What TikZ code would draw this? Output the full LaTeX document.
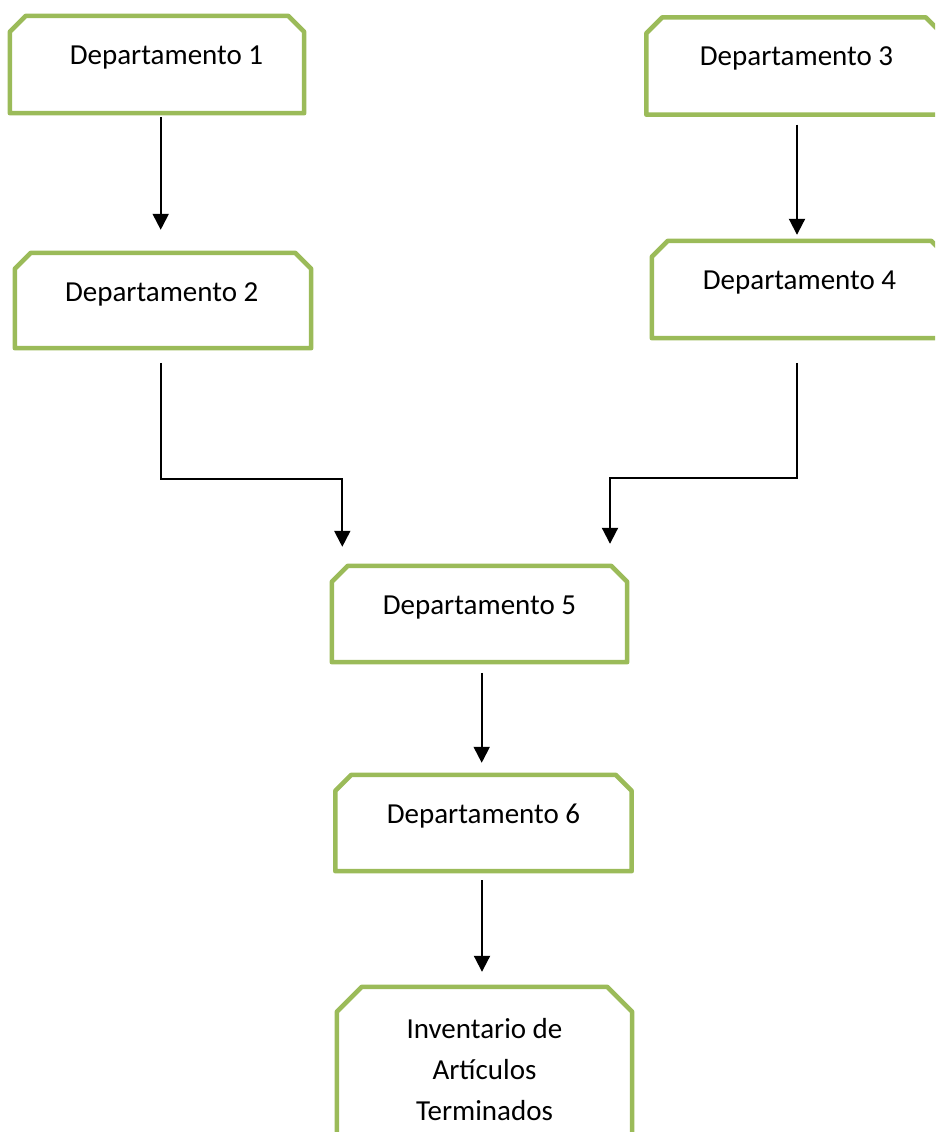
\documentclass[tikz,border=0pt]{standalone}
\usepackage{fontspec}
\setmainfont{Carlito}
\usetikzlibrary{arrows.meta}
\definecolor{boxgreen}{HTML}{9BBB59}

% outline of a box whose two top corners are snipped off
\newcommand\snipoutline[2]{%
  \draw[boxline] (#1.south west) -- ([yshift=-#2]#1.north west)
    -- ([xshift=#2]#1.north west) -- ([xshift=-#2]#1.north east)
    -- ([yshift=-#2]#1.north east) -- (#1.south east) -- cycle;}

\begin{document}
\begin{tikzpicture}[x=1pt,y=-1pt,
  deptbox/.style={rectangle,draw=none,inner sep=0pt,minimum width=295pt,minimum height=96pt},
  boxline/.style={draw=boxgreen,line width=4.5pt,line join=round},
  lbl/.style={inner sep=0pt,anchor=base,align=center,
              font=\fontsize{29}{41}\selectfont},
  arr/.style={draw=black,line width=2pt,-{Triangle[width=16pt,length=16pt]}}]
\useasboundingbox (0,0) rectangle (935,1132);
\clip (0,0) rectangle (935,1132);

% boxes
\node[deptbox,minimum width=294pt,minimum height=97pt] (d1) at (157,64.5) {};
\node[deptbox,minimum width=296pt,minimum height=95pt] (d2) at (163,300.5) {};
\node[deptbox,minimum height=97pt] (d3) at (794,66) {};
\node[deptbox,minimum height=97pt] (d4) at (799.5,289.5) {};
\node[deptbox] (d5) at (479.5,614) {};
\node[deptbox,minimum width=296pt] (d6) at (483.5,823) {};
\node[deptbox,minimum height=150pt] (d7) at (484.5,1062) {};

\foreach \n in {d1,d2,d3,d4,d5,d6} {\snipoutline{\n}{16pt}}
\snipoutline{d7}{25pt}

% labels (a multi-line label sits on the baseline of its last line)
\node[lbl] (t1) at ([xshift=9.5pt,yshift=-49pt]d1.north) {Departamento 1};
\node[lbl] (t2) at ([xshift=-1.3pt,yshift=-49pt]d2.north) {Departamento 2};
\node[lbl] (t3) at ([xshift=2.5pt,yshift=-48pt]d3.north) {Departamento 3};
\node[lbl] (t4) at ([yshift=-49pt]d4.north) {Departamento 4};
\node[lbl] (t5) at ([yshift=-49pt]d5.north) {Departamento 5};
\node[lbl] (t6) at ([yshift=-49pt]d6.north) {Departamento 6};
\node[lbl] (t7) at ([yshift=-134pt]d7.north) {Inventario de\\Artículos\\Terminados};

% connectors
\draw[arr] ([xshift=3.7pt,yshift=-4pt]d1.south) -- ([xshift=-2.3pt,yshift=23pt]d2.north);
\draw[arr] ([xshift=3pt,yshift=-10pt]d3.south) -- ([xshift=-2.5pt,yshift=6pt]d4.north);
\draw[arr] ([xshift=-2.3pt,yshift=-14.7pt]d2.south) -- ++(0,115.6)
  -| ([xshift=-137.2pt,yshift=19pt]d5.north);
\draw[arr] ([xshift=-2.2pt,yshift=-24.7pt]d4.south) -- ++(0,115.3)
  -| ([xshift=130.5pt,yshift=22pt]d5.north);
\draw[arr] ([xshift=2.2pt,yshift=-10.7pt]d5.south) -- ([xshift=-1.8pt,yshift=12pt]d6.north);
\draw[arr] ([xshift=-1.5pt,yshift=-9pt]d6.south) -- ([xshift=-2.5pt,yshift=15pt]d7.north);
\end{tikzpicture}
\end{document}
